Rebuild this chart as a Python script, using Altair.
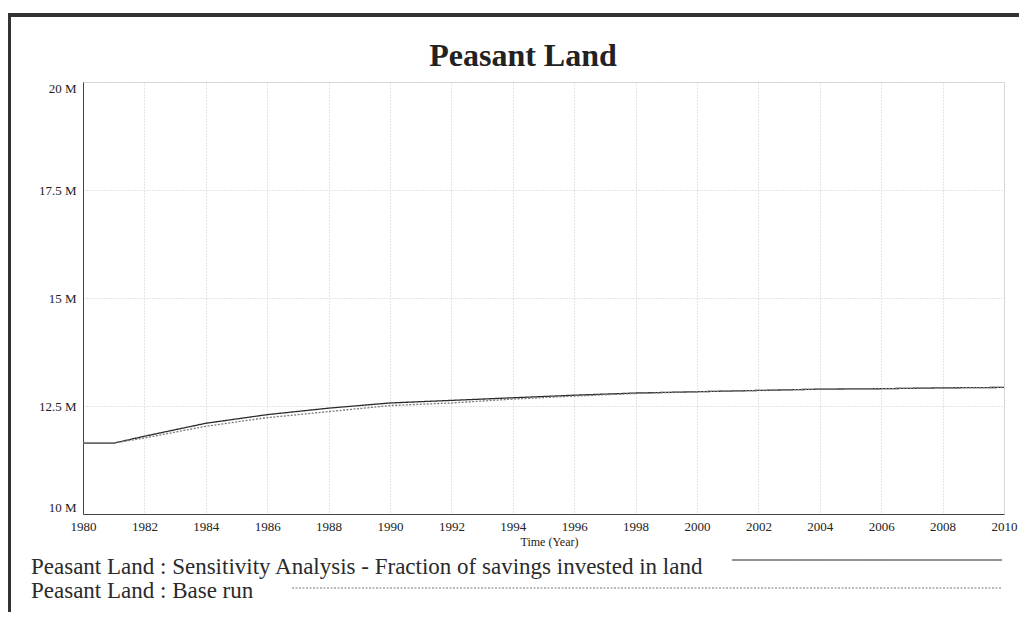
import altair as alt
import pandas as pd

# ---- data (values in millions) ----
years = [1980, 1981, 1982, 1984, 1986, 1988, 1990, 1992, 1994, 1996, 1998,
         2000, 2002, 2004, 2006, 2008, 2010]
sensitivity = [11.64, 11.64, 11.80, 12.10, 12.30, 12.45, 12.57, 12.63, 12.69,
               12.75, 12.80, 12.83, 12.86, 12.89, 12.90, 12.92, 12.93]
base_run = [11.64, 11.64, 11.76, 12.03, 12.23, 12.37, 12.51, 12.57, 12.66,
            12.73, 12.79, 12.83, 12.86, 12.89, 12.90, 12.92, 12.93]
series_names = [
    "Peasant Land : Sensitivity Analysis - Fraction of savings invested in land",
    "Peasant Land : Base run",
]
chart_title = ["Peasant Land"]
x_ticks = list(range(1980, 2011, 2))
y_ticks = [10e6, 12.5e6, 15e6, 17.5e6, 20e6]

FONT = "Liberation Serif"

rows = []
for name, vals in zip(series_names, [sensitivity, base_run]):
    for yr, v in zip(years, vals):
        rows.append({"year": yr, "value": v * 1e6, "series": name})
df = pd.DataFrame(rows)
leg = pd.DataFrame({"series": series_names})

color_scale = alt.Scale(domain=series_names, range=["#2b2b2b", "#7a7a7a"])
dash_scale = alt.Scale(domain=series_names, range=[[1, 0], [2, 1.5]])

lines = alt.Chart(df).mark_line(strokeWidth=1.3).encode(
    x=alt.X("year:Q",
            scale=alt.Scale(domain=[1980, 2010], nice=False, zero=False),
            axis=alt.Axis(values=x_ticks, format="d", title="Time (Year)",
                          titleFont=FONT, titleFontSize=12, titleFontWeight="normal",
                          titleColor="#222", titlePadding=3, titleX=466,
                          labelFont=FONT, labelFontSize=13, labelColor="#222",
                          labelPadding=6, ticks=False, grid=True,
                          gridColor="#cacaca", gridDash=[1, 2], gridWidth=1,
                          domainColor="#444", labelFlush=False)),
    y=alt.Y("value:Q",
            scale=alt.Scale(domain=[10e6, 20e6], nice=False, zero=False),
            axis=alt.Axis(values=y_ticks, labelExpr="(datum.value / 1e6) + ' M'",
                          title=None, labelFont=FONT, labelFontSize=13,
                          labelColor="#222", labelPadding=7, ticks=False,
                          grid=True, gridColor="#cacaca", gridDash=[1, 2],
                          gridWidth=1, domainColor="#444", labelFlush=True)),
    color=alt.Color("series:N", scale=color_scale, legend=None),
    strokeDash=alt.StrokeDash("series:N", scale=dash_scale, legend=None),
)

title_mark = alt.Chart(pd.DataFrame({"t": chart_title})).mark_text(
    font=FONT, fontSize=32, fontWeight="bold", align="center",
    baseline="alphabetic", color="#222").encode(
    text="t:N", x=alt.value(440), y=alt.value(-16))

leg_text1 = alt.Chart(leg).transform_filter(
    alt.datum.series == series_names[0]
).mark_text(font=FONT, fontSize=23, align="left", baseline="alphabetic",
            color="#2a2a2a").encode(
    text="series:N", x=alt.value(-52), y=alt.value(492))
leg_text2 = alt.Chart(leg).transform_filter(
    alt.datum.series == series_names[1]
).mark_text(font=FONT, fontSize=23, align="left", baseline="alphabetic",
            color="#2a2a2a").encode(
    text="series:N", x=alt.value(-52), y=alt.value(516))

leg_line1 = alt.Chart(leg).transform_filter(
    alt.datum.series == series_names[0]
).mark_rule(strokeWidth=1.2).encode(
    x=alt.value(649), x2=alt.value(919), y=alt.value(478),
    color=alt.Color("series:N", scale=color_scale, legend=None),
    strokeDash=alt.StrokeDash("series:N", scale=dash_scale, legend=None))
leg_line2 = alt.Chart(leg).transform_filter(
    alt.datum.series == series_names[1]
).mark_rule(strokeWidth=1.2).encode(
    x=alt.value(209), x2=alt.value(919), y=alt.value(506),
    color=alt.Color("series:N", scale=color_scale, legend=None),
    strokeDash=alt.StrokeDash("series:N", scale=dash_scale, legend=None))

frame_df = pd.DataFrame({"k": [0]})
frame_top = alt.Chart(frame_df).mark_rule(color="#333", strokeWidth=4).encode(
    x=alt.value(-80), x2=alt.value(940), y=alt.value(-67))
frame_left = alt.Chart(frame_df).mark_rule(color="#333", strokeWidth=4).encode(
    x=alt.value(-74), y=alt.value(-69), y2=alt.value(530))

chart = alt.layer(
    lines, title_mark, leg_text1, leg_text2, leg_line1, leg_line2,
    frame_top, frame_left
).properties(
    width=921,
    height=432,
    padding={"left": 75, "top": 74, "right": 15, "bottom": 100},
    autosize=alt.AutoSizeParams(type="none"),
).configure_view(stroke="#555", strokeWidth=1).configure(background="white")

chart.save("out.html", embed_options={"renderer": "svg", "actions": False})
